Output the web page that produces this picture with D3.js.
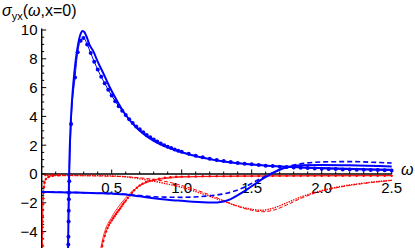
<!DOCTYPE html>
<html>
<head>
<meta charset="utf-8" />
<title>sigma_yx(omega, x=0)</title>
<script src="https://d3js.org/d3.v7.min.js"></script>
<style>
  body { margin: 0; padding: 0; background: #fff; }
  svg { display: block; font-family: "Liberation Sans", Arial, sans-serif; }
</style>
</head>
<body>
<div id="chart"></div>
<script>
// values, [omega, sigma_yx]
const blueSolidA = [[0.188,-5.4],[0.191,-3],[0.194,-1],[0.197,0.6],[0.201,2.0],[0.207,3.5],[0.215,4.9],[0.226,6.3],[0.238,7.5],[0.253,8.6],[0.268,9.4],[0.281,9.8],[0.293,9.93],[0.305,9.85],[0.32,9.55],[0.34,9.0],[0.37,8.5],[0.4,7.8],[0.44,7.0],[0.48,6.15],[0.52,5.4],[0.56,4.7],[0.6,4.1],[0.65,3.5],[0.7,3.0],[0.8,2.3],[0.9,1.85],[1.0,1.5],[1.15,1.12],[1.3,0.87],[1.5,0.66],[1.75,0.5],[2.0,0.41],[2.25,0.35],[2.5,0.3]]

const blueDotsA = [[0.19,-4.9],[0.191,-4.35],[0.192,-3.3],[0.193,-2.55],[0.194,-1.75],[0.195,-1.3],[0.197,-0.5],[0.21,3.47],[0.238,6.7],[0.257,8.45],[0.278,9.25],[0.298,9.45],[0.325,9.0],[0.35,8.4],[0.375,7.8],[0.4,7.25],[0.425,6.75],[0.45,6.3],[0.475,5.85],[0.5,5.45],[0.525,5.05],[0.55,4.7],[0.575,4.4],[0.6,4.1],[0.625,3.8],[0.65,3.55],[0.675,3.3],[0.7,3.1],[0.725,2.9],[0.75,2.7],[0.775,2.55],[0.8,2.4],[0.825,2.25],[0.85,2.12],[0.875,2.0],[0.9,1.9],[0.925,1.8],[0.95,1.7],[0.975,1.62],[1.0,1.54],[1.05,1.4],[1.1,1.27],[1.15,1.16],[1.2,1.06],[1.25,0.98],[1.3,0.9],[1.35,0.83],[1.4,0.77],[1.45,0.72],[1.5,0.67],[1.55,0.62],[1.6,0.58],[1.65,0.55],[1.7,0.51],[1.75,0.48],[1.8,0.46],[1.85,0.43],[1.9,0.41],[1.95,0.39],[2.0,0.37],[2.05,0.35],[2.1,0.34],[2.15,0.32],[2.2,0.31],[2.25,0.3],[2.3,0.29],[2.35,0.28],[2.4,0.27],[2.45,0.26],[2.5,0.25]]

const blueSolidB = [[0,-1.25],[0.1,-1.26],[0.2,-1.28],[0.3,-1.3],[0.4,-1.33],[0.5,-1.36],[0.6,-1.42],[0.7,-1.55],[0.8,-1.68],[0.9,-1.78],[1.0,-1.86],[1.08,-1.92],[1.15,-1.96],[1.22,-1.98],[1.29,-1.92],[1.35,-1.74],[1.41,-1.42],[1.47,-1.05],[1.53,-0.65],[1.58,-0.32],[1.63,-0.04],[1.69,0.26],[1.77,0.5],[1.85,0.6],[2.0,0.62],[2.2,0.6],[2.5,0.52]]

const blueDashedB = [[0,-1.25],[0.2,-1.28],[0.4,-1.33],[0.6,-1.41],[0.7,-1.5],[0.8,-1.58],[0.9,-1.61],[1.0,-1.62],[1.13,-1.57],[1.25,-1.46],[1.32,-1.34],[1.44,-0.95],[1.54,-0.44],[1.63,0.0],[1.72,0.38],[1.8,0.62],[1.9,0.77],[2.0,0.84],[2.2,0.86],[2.4,0.8],[2.5,0.76]]

const redSolidA = [[0.418,-5.4],[0.43,-4.75],[0.45,-4.0],[0.5,-3.0],[0.55,-2.25],[0.6,-1.65],[0.65,-1.18],[0.7,-0.82],[0.8,-0.45],[0.9,-0.3],[1.0,-0.22],[1.3,-0.16],[1.8,-0.13],[2.5,-0.11]]

const redDotsA = [[0.425,-5.4],[0.432,-5.0],[0.44,-4.65],[0.45,-4.3],[0.46,-4.0],[0.47,-3.75],[0.48,-3.55],[0.49,-3.38],[0.5,-3.22],[0.51,-3.07],[0.52,-2.93],[0.53,-2.79],[0.54,-2.65],[0.55,-2.52],[0.56,-2.4],[0.57,-2.25],[0.58,-2.1],[0.59,-1.97],[0.6,-1.85],[0.615,-1.66],[0.63,-1.48],[0.645,-1.3],[0.66,-1.13],[0.68,-0.95],[0.7,-0.8],[0.72,-0.68],[0.745,-0.56],[0.77,-0.47],[0.8,-0.4],[0.84,-0.32],[0.88,-0.26],[0.92,-0.22],[0.96,-0.19],[1.0,-0.18],[1.05,-0.17],[1.1,-0.17],[1.15,-0.16],[1.2,-0.16],[1.25,-0.15],[1.3,-0.15],[1.35,-0.15],[1.4,-0.14],[1.45,-0.14],[1.5,-0.14],[1.55,-0.14],[1.6,-0.13],[1.65,-0.13],[1.7,-0.13],[1.75,-0.13],[1.8,-0.13],[1.85,-0.13],[1.9,-0.12],[1.95,-0.12],[2.0,-0.12],[2.05,-0.12],[2.1,-0.12],[2.15,-0.12],[2.2,-0.12],[2.25,-0.12],[2.3,-0.12],[2.35,-0.12],[2.4,-0.12],[2.45,-0.12],[2.5,-0.12]]

const redDotsB = [[0.003,-5.3],[0.0035,-4.9],[0.004,-4.5],[0.0045,-4.1],[0.005,-3.7],[0.006,-3.3],[0.007,-2.9],[0.008,-2.5],[0.009,-2.1],[0.011,-1.7],[0.013,-1.3],[0.016,-0.9],[0.02,-0.6],[0.03,-0.35],[0.05,-0.2],[0.08,-0.12],[0.12,-0.08]]

const redDottedC = [[0.02,-0.1],[0.3,-0.1],[0.5,-0.13],[0.6,-0.2],[0.7,-0.33],[0.8,-0.5],[0.9,-0.7],[1.0,-0.92],[1.1,-1.22],[1.2,-1.55],[1.3,-1.9],[1.4,-2.22],[1.5,-2.45],[1.57,-2.52],[1.65,-2.38],[1.75,-2.0],[1.85,-1.6],[1.95,-1.28],[2.1,-0.93],[2.3,-0.63],[2.5,-0.43]]

const redDashedC = [[0.02,-0.08],[0.3,-0.12],[0.5,-0.16],[0.65,-0.22],[0.8,-0.38],[0.9,-0.55],[1.0,-0.8],[1.1,-1.1],[1.2,-1.45],[1.3,-1.85],[1.4,-2.25],[1.5,-2.52],[1.58,-2.62],[1.66,-2.5],[1.75,-2.15],[1.85,-1.7],[1.95,-1.33],[2.1,-0.97],[2.3,-0.66],[2.5,-0.45]]

const xTickLabels = ['0.5', '1.0', '1.5', '2.0', '2.5']
const yTickLabels = ['\u22124', '\u22122', '0', '2', '4', '6', '8', '10']

const W = 415, H = 248
const x = d3.scaleLinear().domain([0, 2.5]).range([41.7, 391.7])
const y = d3.scaleLinear().domain([-5, 10]).range([246, 30])

const svg = d3.select('#chart').append('svg')
  .attr('width', W)
  .attr('height', H)

svg.append('defs').append('clipPath').attr('id', 'plot')
  .append('rect').attr('x', x(0)).attr('y', 0).attr('width', x(2.5) - x(0) + 2).attr('height', H)

// axes
const axes = svg.append('g').attr('stroke', '#000')
axes.append('line')
  .attr('x1', x(0)).attr('x2', x(2.5))
  .attr('y1', y(0)).attr('y2', y(0))
  .attr('stroke-width', 1.4)
axes.append('line')
  .attr('x1', x(0)).attr('x2', x(0))
  .attr('y1', y(10.1)).attr('y2', H)
  .attr('stroke-width', 1.4)

// minor / major ticks on x axis (pointing up)
d3.range(1, 26).forEach(i => {
  const major = i % 5 == 0
  axes.append('line')
    .attr('x1', x(i / 10)).attr('x2', x(i / 10))
    .attr('y1', y(0)).attr('y2', y(0) - (major ? 4.5 : 2.5))
    .attr('stroke-width', 1)
})
// y ticks (pointing right)
d3.range(-10, 21).forEach(i => {
  const v = i / 2
  const major = i % 4 == 0
  axes.append('line')
    .attr('x1', x(0)).attr('x2', x(0) + (major ? 4.5 : 2.5))
    .attr('y1', y(v)).attr('y2', y(v))
    .attr('stroke-width', 1)
})

svg.append('g')
  .selectAll('text')
  .data(xTickLabels)
  .join('text')
    .attr('x', d => x(+d))
    .attr('y', y(0) + 19)
    .attr('text-anchor', 'middle')
    .attr('font-size', 15)
    .text(d => d)

svg.append('g')
  .selectAll('text')
  .data(yTickLabels)
  .join('text')
    .attr('x', 37.5)
    .attr('y', d => y(+d.replace('\u2212', '-')))
    .attr('dy', '0.36em')
    .attr('text-anchor', 'end')
    .attr('font-size', 15)
    .text(d => d)

// title
const title = svg.append('text')
  .attr('x', 2)
  .attr('y', 16)
  .attr('font-size', 16)
title.append('tspan').attr('font-style', 'italic').text('\u03c3')
title.append('tspan').attr('font-size', 11).attr('dy', 4).text('yx')
title.append('tspan').attr('dy', -4).text('(')
title.append('tspan').attr('font-style', 'italic').text('\u03c9')
title.append('tspan').text(',x=0)')

svg.append('text')
  .attr('x', 401)
  .attr('y', 175)
  .attr('font-size', 16)
  .attr('font-style', 'italic')
  .text('\u03c9')

// curves
const line = d3.line()
  .x(d => x(d[0]))
  .y(d => y(d[1]))
  .curve(d3.curveMonotoneX)

const plot = svg.append('g').attr('clip-path', 'url(#plot)')

const series = [
  { data: redDottedC, color: '#ff0000', width: 1.4, dash: '1.4 1.1' },
  { data: redDashedC, color: '#ff0000', width: 1, dash: '4 2' },
  { data: redSolidA, color: '#ff0000', width: 0.8, dash: null },
  { data: redDotsA, color: '#ff0000', width: 0.8, dash: null, r: 1.2 },
  { data: redDotsB, color: '#ff0000', width: 0.8, dash: null, r: 1.3 },
  { data: blueDashedB, color: '#0000ff', width: 1.6, dash: '5 3' },
  { data: blueSolidB, color: '#0000ff', width: 2, dash: null },
  { data: blueSolidA, color: '#0000ff', width: 2, dash: null },
  { data: blueDotsA, color: '#0000ff', width: 1, dash: null, r: 2 }
]

series.forEach(s => {
  plot.append('path')
    .datum(s.data)
    .attr('fill', 'none')
    .attr('stroke', s.color)
    .attr('stroke-width', s.width)
    .attr('stroke-dasharray', s.dash)
    .attr('d', line)
  if (s.r) {
    plot.append('g')
      .selectAll('circle')
      .data(s.data)
      .join('circle')
        .attr('cx', d => x(d[0]))
        .attr('cy', d => y(d[1]))
        .attr('r', s.r)
        .attr('fill', s.color)
  }
})
</script>
</body>
</html>
